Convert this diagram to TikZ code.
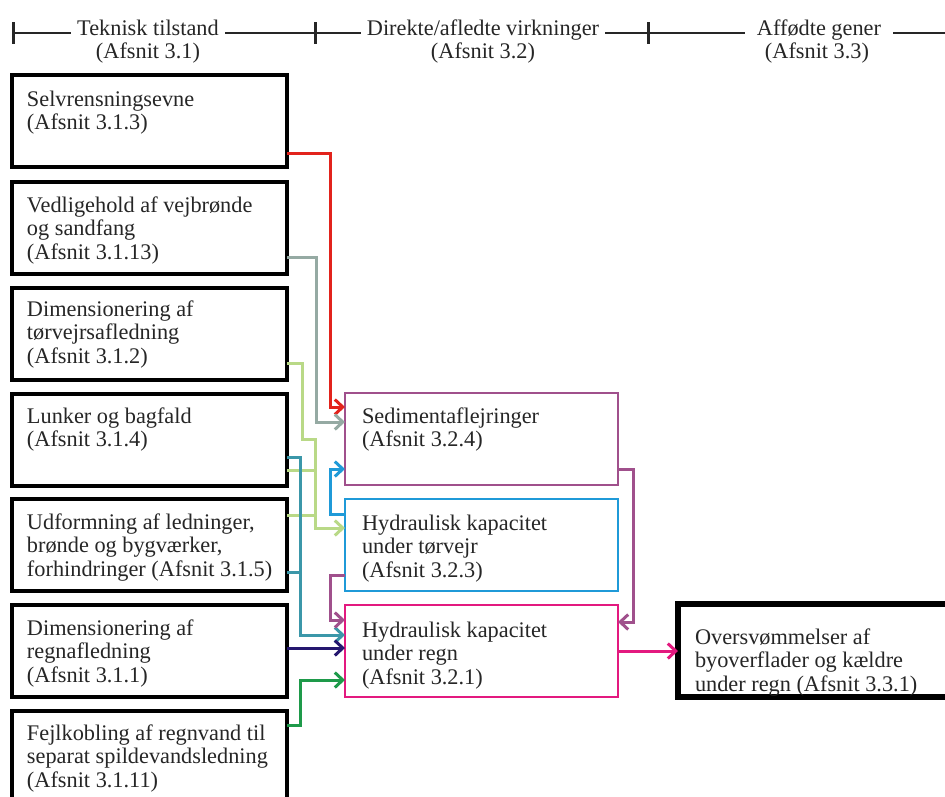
\documentclass[tikz,border=0pt]{standalone}
\usepackage{fontspec}
\setmainfont{Liberation Serif}
\usetikzlibrary{arrows.meta,calc}

\definecolor{cred}{HTML}{E2231C}
\definecolor{cgray}{HTML}{95AAA3}
\definecolor{clime}{HTML}{B9D987}
\definecolor{cteal}{HTML}{3B97A9}
\definecolor{cblue}{HTML}{1F9AD8}
\definecolor{cplum}{HTML}{A0508C}
\definecolor{cpink}{HTML}{E3197F}
\definecolor{cnavy}{HTML}{25176F}
\definecolor{cgreen}{HTML}{1E9A4A}
\definecolor{ink}{HTML}{262626}

% multi-line cell text whose base anchor is the first baseline
\newcommand\celltext[1]{\parbox[t]{320pt}{\raggedright #1}}

\begin{document}
\begin{tikzpicture}[x=1pt,y=-1pt,
  every node/.style={inner sep=0pt, outer sep=0pt},
  txt/.style={anchor=base west, text=ink, font=\fontsize{22.3}{23.5}\selectfont},
  head/.style={anchor=base, text=ink, font=\fontsize{22.3}{23.5}\selectfont, fill=white, inner xsep=6pt, inner ysep=1pt},
  lbox/.style={draw=black, anchor=north west, minimum width=275pt, minimum height=92pt, line width=3.2pt},
  mbox/.style={draw, anchor=north west, minimum width=273pt, minimum height=92pt, line width=2.8pt},
  obox/.style={draw=black, anchor=north west, minimum width=300pt, minimum height=93pt, line width=5.5pt},
  wire/.style={line width=3pt},
  tip/.style={-{Straight Barb[length=8pt,width=15pt]}},
  rule/.style={line width=2.6pt, black!85},
  tick/.style={line width=3pt, black!85}
]
\fill[white] (0,0) rectangle (945,796);
\useasboundingbox (0,0) rectangle (945,796);

% column header rule with ticks
\coordinate (r0) at (13,33);
\coordinate (r1) at (945,33);
\draw[rule] (r0) -- (r1);
\foreach \tx in {13,315,648} \draw[tick] (\tx,22) -- (\tx,44);
\node[head] (h1) at (148,35) {Teknisk tilstand};
\node[head, fill=none] (h1b) at (148,58) {(Afsnit 3.1)};
\node[head] (h2) at (483,35) {Direkte/afledte virkninger};
\node[head, fill=none] (h2b) at (483,58) {(Afsnit 3.2)};
\node[head, inner xsep=12pt] (h3) at (819,35) {Affødte gener};
\node[head, fill=none] (h3b) at (817,58) {(Afsnit 3.3)};

% left column: technical condition
\node[lbox] (b1) at (12,75)  {};
\node[lbox] (b2) at (12,182) {};
\node[lbox] (b3) at (12,288) {};
\node[lbox] (b4) at (12,394) {};
\node[lbox] (b5) at (12,499) {};
\node[lbox] (b6) at (12,605) {};
\node[lbox] (b7) at (12,711) {};
\node[txt] (t1) at ($(b1.north west)+(15,31)$) {\celltext{Selvrensningsevne\\(Afsnit 3.1.3)}};
\node[txt] (t2) at ($(b2.north west)+(15,30)$) {\celltext{Vedligehold af vejbrønde\\og sandfang\\(Afsnit 3.1.13)}};
\node[txt] (t3) at ($(b3.north west)+(15,28)$) {\celltext{Dimensionering af\\tørvejrsafledning\\(Afsnit 3.1.2)}};
\node[txt] (t4) at ($(b4.north west)+(15,29)$) {\celltext{Lunker og bagfald\\(Afsnit 3.1.4)}};
\node[txt] (t5) at ($(b5.north west)+(15,30)$) {\celltext{Udformning af ledninger,\\brønde og bygværker,\\forhindringer (Afsnit 3.1.5)}};
\node[txt] (t6) at ($(b6.north west)+(15,30)$) {\celltext{Dimensionering af\\regnafledning\\(Afsnit 3.1.1)}};
\node[txt] (t7) at ($(b7.north west)+(15,29)$) {\celltext{Fejlkobling af regnvand til\\separat spildevandsledning\\(Afsnit 3.1.11)}};

% middle column: direct effects
\node[mbox, draw=cplum] (sed)  at (345,393) {};
\node[mbox, draw=cblue] (tor)  at (345,499) {};
\node[mbox, draw=cpink] (regn) at (345,605) {};
\node[txt] (ts) at ($(sed.north west)+(17,30)$)  {\celltext{Sedimentaflejringer\\(Afsnit 3.2.4)}};
\node[txt] (tt) at ($(tor.north west)+(17,31)$)  {\celltext{Hydraulisk kapacitet\\under tørvejr\\(Afsnit 3.2.3)}};
\node[txt] (tr) at ($(regn.north west)+(17,32)$) {\celltext{Hydraulisk kapacitet\\under regn\\(Afsnit 3.2.1)}};

% right column: resulting nuisance
\node[obox] (out) at (678,604) {};
\node[txt] (to) at ($(out.north west)+(17,40)$) {\celltext{Oversvømmelser af\\byoverflader og kældre\\under regn (Afsnit 3.3.1)}};

% connectors into Sedimentaflejringer
\draw[wire, cred, tip] ($(b1.north east)+(0,78)$) -| ($(sed.north west)+(-15,14)$) -- ($(sed.north west)+(0,14)$);
\draw[wire, cgray, tip] ($(b2.north east)+(0,75)$) -| ($(sed.north west)+(-29,29)$) -- ($(sed.north west)+(0,29)$);
\draw[wire, cblue, tip] ($(tor.north west)+(0,15)$) -| ($(sed.north west)+(-15,76)$) -- ($(sed.north west)+(0,76)$);

% connectors into Hydraulisk kapacitet under tørvejr
\draw[wire, clime, tip] ($(b3.north east)+(0,75)$) -- ++(15,0) -- ++(0,76) -| ($(tor.north west)+(-30,29)$) -- ($(tor.north west)+(0,29)$);
\draw[wire, clime] ($(b4.north east)+(0,76)$) -| ($(tor.north west)+(-30,29)$);
\draw[wire, clime] ($(b5.north east)+(0,16)$) -| ($(tor.north west)+(-30,29)$);

% connectors into Hydraulisk kapacitet under regn
\draw[wire, cteal, tip] ($(b4.north east)+(0,63)$) -| ($(regn.north west)+(-45,30)$) -- ($(regn.north west)+(0,30)$);
\draw[wire, cteal] ($(b5.north east)+(0,73)$) -| ($(regn.north west)+(-45,30)$);
\draw[wire, cplum, tip] ($(tor.north west)+(0,76)$) -| ($(regn.north west)+(-15,15)$) -- ($(regn.north west)+(0,15)$);
\draw[wire, cplum, tip] ($(sed.north east)+(0,76)$) -| ($(regn.north east)+(15,17)$) -- ($(regn.north east)+(0,17)$);
\draw[wire, cnavy, tip] ($(b6.north east)+(0,43)$) -- ($(regn.north west)+(0,43)$);
\draw[wire, cgreen, tip] ($(b7.north east)+(0,14)$) -| ($(regn.north west)+(-45,75)$) -- ($(regn.north west)+(0,75)$);

% consequence
\draw[wire, cpink, tip] ($(regn.north east)+(0,46)$) -- ($(out.north west)+(0,47)$);
\end{tikzpicture}
\end{document}
